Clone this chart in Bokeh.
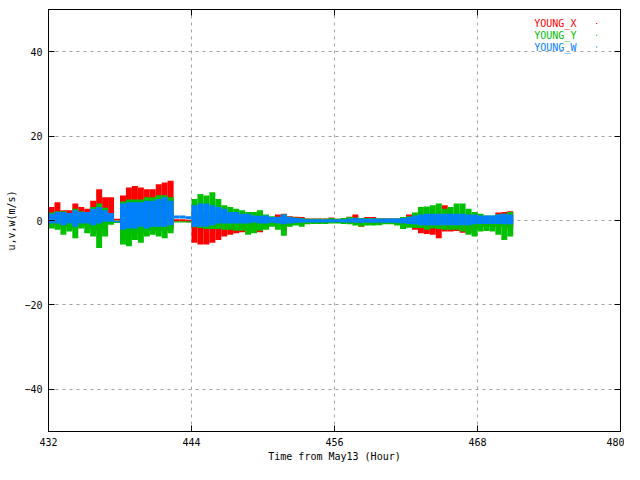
import numpy as np
from bokeh.plotting import figure
from bokeh.models import Range1d, LinearAxis, Label, FixedTicker, BoxAnnotation
from bokeh.embed import file_html
from bokeh.resources import INLINE

# per half-hour bin, max / min of each wind component (m/s)
t_start = 432.0
bin_width = 0.5

x_hi = [3.2, 4.3, 2.4, 2.4, 4.0, 3.2, 2.8, 4.7, 7.4, 5.5, 5.5, 0.4,
        5.9, 7.8, 8.2, 7.8, 7.4, 7.4, 8.6, 9.0, 9.4, 0.3, 0.3, 0.2,
        2.0, 2.0, 2.0, 2.0, 1.5, 1.5, 1.0, 1.0, 1.0, 1.0, 0.8, 0.8,
        0.8, 0.6, 1.4, 1.6, 1.0, 0.9, 0.85, 0.5, 0.5, 0.5, 0.5, 0.7,
        0.4, 0.4, 0.9, 1.4, 0.6, 0.85, 0.85, 0.5, 0.5, 0.5, 0.5, 0.7,
        1.4, 1.0, 1.0, 1.2, 1.2, 1.5, 3.6, 1.5, 1.5, 1.5, 1.5, 1.2,
        1.2, 1.0, 1.0, 1.9, 2.0, 2.2]
x_lo = [-1.2, -1.4, -1.8, -1.5, -2.0, -1.2, -1.5, -2.0, -2.5, -2.0, -0.5, 0.0,
        -3.0, -3.0, -3.0, -3.0, -2.5, -2.5, -2.5, -2.5, -2.0, -0.3, -0.3, -0.4,
        -5.3, -5.7, -5.7, -5.3, -4.6, -3.8, -3.4, -3.0, -2.8, -2.2, -1.9, -2.8,
        -1.9, -1.1, -1.5, -2.5, -1.0, -0.9, -0.8, -0.6, -0.6, -0.6, -0.6, -0.5,
        -0.5, -0.5, -0.6, -0.7, -1.5, -0.8, -0.8, -0.7, -0.6, -0.6, -0.7, -1.0,
        -1.2, -2.2, -3.0, -3.2, -3.4, -4.2, -2.6, -2.6, -2.5, -2.9, -3.0, -2.2,
        -1.5, -1.5, -1.5, -1.5, -1.5, -1.9]
y_hi = [1.9, 2.2, 2.2, 1.8, 2.8, 2.2, 2.0, 3.2, 4.0, 3.0, 1.0, 0.0,
        4.5, 5.0, 5.0, 5.0, 5.5, 5.5, 6.0, 6.0, 5.5, -0.2, -0.2, -0.2,
        5.1, 6.3, 5.9, 6.7, 5.1, 3.6, 3.2, 2.8, 2.4, 2.0, 2.0, 2.4,
        1.4, 1.0, 0.9, 1.5, 0.9, 0.7, 0.6, 0.4, 0.4, 0.4, 0.4, 0.6,
        0.4, 0.6, 0.85, 0.7, 0.6, 0.6, 0.6, 0.5, 0.5, 0.5, 0.5, 0.8,
        1.0, 1.9, 3.2, 3.3, 3.6, 4.0, 2.8, 3.2, 4.0, 4.0, 2.8, 2.0,
        1.6, 1.2, 1.2, 1.5, 1.6, 2.0]
y_lo = [-1.9, -2.2, -3.4, -2.6, -4.2, -1.9, -3.0, -3.8, -6.5, -3.8, -1.0, -0.6,
        -5.7, -6.1, -4.6, -5.3, -3.8, -3.4, -3.8, -4.2, -3.0, -0.5, -0.5, -0.5,
        -1.6, -1.8, -2.0, -2.0, -2.0, -2.2, -2.2, -2.4, -2.4, -3.4, -3.0, -2.4,
        -2.2, -1.5, -2.2, -3.6, -1.5, -1.2, -1.5, -0.9, -0.8, -0.8, -0.8, -0.7,
        -0.7, -0.8, -0.9, -1.2, -1.4, -1.2, -1.2, -1.1, -0.9, -0.9, -1.2, -2.0,
        -1.7, -1.8, -1.8, -2.2, -1.9, -2.0, -2.2, -2.2, -2.2, -2.6, -3.4, -3.8,
        -2.6, -2.5, -2.6, -3.4, -4.6, -3.8]
w_hi = [1.6, 2.0, 2.0, 1.8, 2.4, 2.0, 2.0, 2.8, 3.2, 2.4, 1.8, -0.1,
        4.0, 4.3, 4.3, 4.3, 4.7, 4.7, 5.1, 5.5, 4.7, 1.2, 1.2, 1.0,
        3.6, 4.0, 4.0, 3.6, 3.2, 2.8, 2.0, 2.0, 1.6, 1.6, 1.2, 1.1,
        1.2, 0.85, 0.85, 1.4, 0.85, 0.6, 0.5, 0.3, 0.3, 0.3, 0.3, 0.3,
        0.3, 0.3, 0.45, 0.6, 0.45, 0.45, 0.45, 0.45, 0.45, 0.45, 0.45, 0.6,
        0.85, 1.2, 1.4, 1.6, 1.6, 1.6, 1.6, 1.6, 1.6, 1.6, 1.4, 1.4,
        1.2, 1.2, 1.2, 1.4, 1.6, 1.4]
w_lo = [-0.7, -0.7, -1.1, -0.7, -1.5, -0.7, -0.7, -1.1, -0.7, -0.3, -0.3, -0.4,
        -2.2, -1.9, -1.9, -1.5, -1.9, -1.5, -1.5, -1.5, -1.1, 0.5, 0.5, 0.3,
        -1.5, -1.5, -1.5, -1.1, -0.7, -0.7, -0.7, -0.7, -0.7, -0.7, -0.5, -0.7,
        -0.7, -0.55, -0.7, -0.9, -0.7, -0.6, -0.55, -0.45, -0.45, -0.45, -0.45, -0.4,
        -0.4, -0.45, -0.45, -0.55, -0.55, -0.55, -0.55, -0.55, -0.55, -0.55, -0.6, -0.7,
        -0.8, -0.9, -1.1, -1.2, -1.2, -1.1, -1.1, -1.1, -1.1, -1.1, -1.1, -0.9,
        -0.8, -0.8, -0.8, -0.8, -0.9, -0.9]

x_ticks = [432, 444, 456, 468, 480]
y_ticks = [-40, -20, 0, 20, 40]

series = [("YOUNG_X", x_hi, x_lo, "#ff0000"),
          ("YOUNG_Y", y_hi, y_lo, "#00c000"),
          ("YOUNG_W", w_hi, w_lo, "#0080ff")]

hours = t_start + bin_width / 2 + bin_width * np.arange(len(x_hi))

font = "DejaVu Sans Mono"
fsize = "10px"

p = figure(width=624, height=464, x_range=Range1d(432, 480), y_range=Range1d(-50, 50),
           output_backend="svg", toolbar_location=None,
           min_border_left=48, min_border_right=4, min_border_top=9, min_border_bottom=30)

p.outline_line_color = "black"
p.outline_line_alpha = 1.0
p.grid.grid_line_color = "#a0a0a0"
p.grid.grid_line_dash = "3 4"
p.xgrid.ticker = FixedTicker(ticks=x_ticks)
p.ygrid.ticker = FixedTicker(ticks=y_ticks)

for ax, ticks in ((p.xaxis[0], x_ticks), (p.yaxis[0], y_ticks)):
    ax.ticker = FixedTicker(ticks=ticks)
    ax.major_tick_in = 6
    ax.major_tick_out = 0
    ax.minor_tick_line_color = None
    ax.axis_line_color = "black"
    ax.major_tick_line_color = "black"
    ax.major_label_text_color = "black"
    ax.major_label_text_font = font
    ax.major_label_text_font_size = fsize
    ax.axis_label_text_color = "black"
    ax.axis_label_text_font = font
    ax.axis_label_text_font_size = fsize
    ax.axis_label_text_font_style = "normal"

p.xaxis.axis_label = "Time from May13 (Hour)"
p.xaxis.major_label_standoff = 6
p.xaxis.axis_label_standoff = 2
p.yaxis.axis_label = "u,v,w(m/s)"
p.yaxis.major_label_standoff = 6
p.yaxis.axis_label_standoff = 4

# mirrored ticks on the right and top edges
for loc, ticks in (("right", y_ticks), ("above", x_ticks)):
    ax = LinearAxis(ticker=FixedTicker(ticks=ticks),
                    major_label_overrides={t: "" for t in ticks},
                    major_tick_in=6, major_tick_out=0, major_label_standoff=0,
                    minor_tick_line_color=None, axis_line_color="black",
                    major_tick_line_color="black")
    p.add_layout(ax, loc)

for name, hi, lo, color in series:
    p.vbar(x=hours, width=bin_width, top=hi, bottom=lo,
           fill_color=color, line_color=None)

# gnuplot style key: text right aligned, sample dot to its right
key_y = [46.7, 43.9, 41.1]
for (name, hi, lo, color), ky in zip(series, key_y):
    p.add_layout(Label(x=476.3, y=ky, text=name, text_align="right",
                       text_baseline="middle", text_color=color,
                       text_font=font, text_font_size=fsize))
    p.add_layout(BoxAnnotation(left=477.95, right=478.05, bottom=ky - 0.12, top=ky + 0.12,
                               fill_color=color, fill_alpha=1.0, line_color=None))

open("out.html", "w").write(file_html(p, INLINE))
